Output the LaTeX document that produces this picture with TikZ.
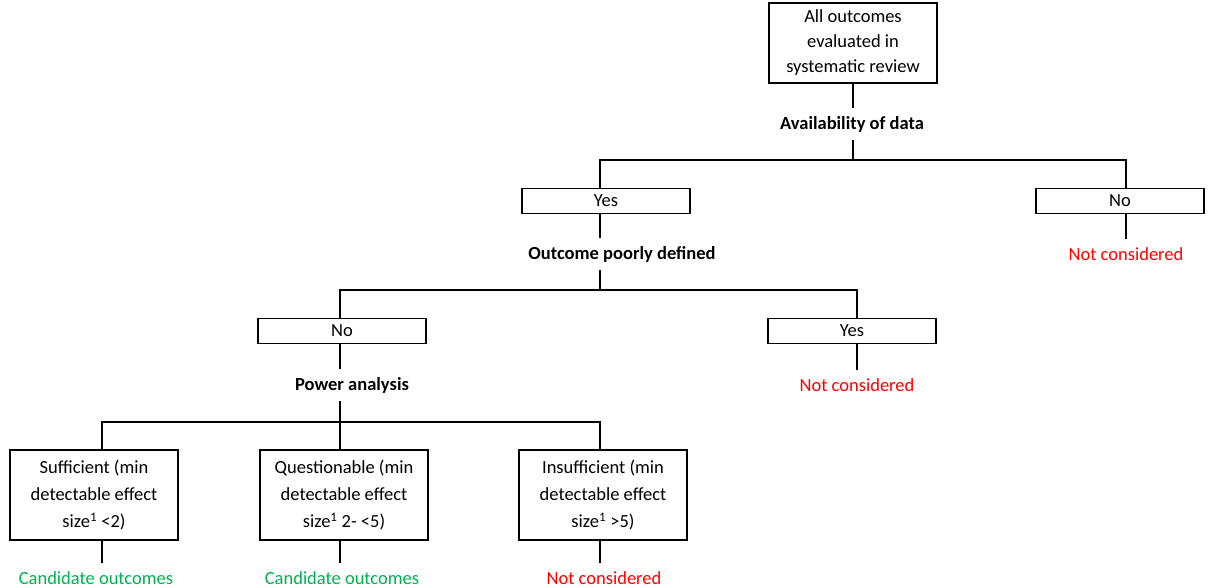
\documentclass[tikz,border=0pt]{standalone}
\usepackage{fontspec}
\setmainfont{Carlito}
\definecolor{ncred}{RGB}{255,0,0}
\definecolor{cgreen}{RGB}{0,176,80}
\begin{document}
\begin{tikzpicture}[x=1pt,y=-1pt,line width=1.5pt,
  box/.style={draw=black,line width=1.5pt,minimum width=168pt,inner sep=0pt,align=center,font=\fontsize{18.5}{25}\selectfont},
  sbox/.style={box,minimum height=25pt},
  tbox/.style={box,minimum height=80pt},
  bbox/.style={box,minimum height=90pt,font=\fontsize{18.5}{27}\selectfont},
  qlabel/.style={inner sep=0pt,minimum height=30pt,font=\bfseries\fontsize{18.5}{20}\selectfont},
  nclabel/.style={inner sep=0pt,minimum height=28pt,text=ncred,font=\fontsize{18.5}{20}\selectfont},
  cand/.style={inner sep=0pt,minimum height=28pt,text=cgreen,font=\fontsize{18.5}{20}\selectfont}]
\useasboundingbox (0,0) rectangle (1208,587);
% nodes
\node[tbox] (top) at (853,43) {All outcomes\\evaluated in\\systematic review};
\node[qlabel] (avail) at (852,124) {Availability of data};
\node[sbox] (yes1) at (606,201) {Yes};
\node[sbox] (no1) at (1120,201) {No};
\node[nclabel] (nc1) at (1126,254) {Not considered};
\node[qlabel] (opd) at (622,254) {Outcome poorly defined};
\node[sbox] (no2) at (342,331) {No};
\node[sbox] (yes2) at (852,331) {Yes};
\node[nclabel] (nc2) at (857,385) {Not considered};
\node[qlabel] (pow) at (352,385) {Power analysis};
\node[bbox] (b1) at (94,495) {Sufficient (min\\detectable effect\\size\textsuperscript{1} <2)};
\node[bbox] (b2) at (344,495) {Questionable (min\\detectable effect\\size\textsuperscript{1} 2- <5)};
\node[bbox] (b3) at (603,495) {Insufficient (min\\detectable effect\\size\textsuperscript{1} >5)};
\node[cand] (c1) at (96,578) {Candidate outcomes};
\node[cand] (c2) at (342,578) {Candidate outcomes};
\node[nclabel] (nc3) at (604,578) {Not considered};
% junctions
\coordinate (j1) at (853,160);
\coordinate (j2) at (600,290);
\coordinate (j3) at (340,422);
% connectors
\draw (top.south) -- (top.south |- avail.north);
\draw (avail.south -| top.south) -- (j1);
\draw ([xshift=-6pt]yes1.north) |- (j1) -| ([xshift=6pt]no1.north);
\draw ([xshift=6pt]no1.south) -- ([xshift=6pt]no1.south |- nc1.north);
\draw ([xshift=-6pt]yes1.south) -- ([xshift=-6pt]yes1.south |- opd.north);
\draw (opd.south -| j2) -- (j2);
\draw ([xshift=-2pt]no2.north) |- (j2) -| ([xshift=5pt]yes2.north);
\draw ([xshift=5pt]yes2.south) -- ([xshift=5pt]yes2.south |- nc2.north);
\draw ([xshift=-2pt]no2.south) -- ([xshift=-2pt]no2.south |- pow.north);
\draw (pow.south -| j3) -- (j3);
\draw ([xshift=8pt]b1.north) |- (j3) -| ([xshift=-3pt]b3.north);
\draw ([xshift=-4pt]b2.north) -- ([xshift=-4pt]b2.north |- j3);
\draw ([xshift=8pt]b1.south) -- ([xshift=8pt]b1.south |- c1.north);
\draw ([xshift=-4pt]b2.south) -- ([xshift=-4pt]b2.south |- c2.north);
\draw ([xshift=-3pt]b3.south) -- ([xshift=-3pt]b3.south |- nc3.north);
\end{tikzpicture}
\end{document}
